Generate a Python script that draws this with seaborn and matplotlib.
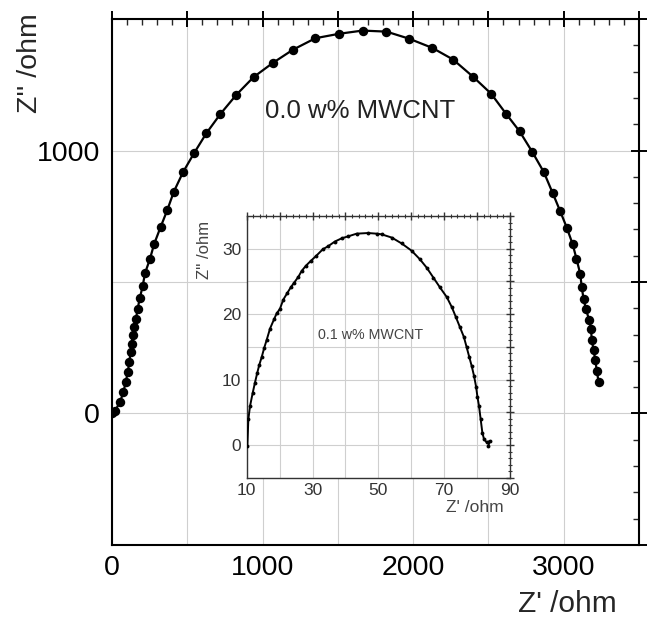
import matplotlib
matplotlib.use("Agg")
import matplotlib.pyplot as plt
import seaborn as sns
import pandas as pd
from matplotlib.ticker import MultipleLocator, FuncFormatter

# ---------------- data ----------------
# main plot: 0.0 w% MWCNT (Nyquist plot)
main_zre = [0, 20, 53, 75, 91, 104, 115, 123, 130, 136, 148, 159, 170, 185, 203,
            219, 252, 280, 322, 366, 411, 472, 545, 627, 720, 826, 940, 1068,
            1201, 1351, 1510, 1664, 1823, 1974, 2128, 2265, 2397, 2518, 2618,
            2707, 2790, 2868, 2927, 2977, 3021, 3060, 3085, 3110, 3120, 3132,
            3147, 3170, 3181, 3187, 3199, 3210, 3220, 3232]
main_zim = [0, 11, 43, 81, 119, 157, 195, 233, 265, 297, 328, 360, 398, 440, 483,
            533, 588, 645, 708, 772, 844, 918, 990, 1066, 1139, 1212, 1279, 1333,
            1383, 1427, 1444, 1456, 1452, 1425, 1390, 1346, 1281, 1216, 1139,
            1073, 996, 918, 838, 769, 706, 643, 588, 531, 480, 436,
            398, 354, 322, 278, 240, 202, 163, 119]

# inset: 0.1 w% MWCNT
ins_zre = [10.2, 10.5, 11.0, 11.8, 12.5, 13.2, 13.8, 14.6, 15.3, 16.1, 17.1, 18.3,
           19.1, 20.1, 21.1, 22.3, 23.4, 24.4, 25.7, 26.7, 28.0, 29.4, 31.1, 33.1,
           34.8, 36.8, 38.9, 40.9, 43.4, 46.9, 49.5, 51.0, 54.1, 57.1, 60.1, 62.6,
           64.7, 66.7, 68.7, 70.8, 72.3, 73.6, 74.8, 76.0, 76.8, 77.6, 78.4, 79.1,
           79.7, 80.1, 80.6, 81.1, 81.6, 82.1, 82.9, 83.9, 83.4]
ins_zim = [-0.15, 3.9, 5.9, 7.9, 9.5, 11.0, 12.2, 13.5, 14.8, 16.1, 17.8, 19.2,
           20.1, 20.8, 22.2, 23.2, 24.1, 24.8, 25.7, 26.6, 27.4, 28.1, 28.9, 29.9,
           30.4, 31.1, 31.6, 31.9, 32.3, 32.4, 32.3, 32.2, 31.7, 30.8, 29.7, 28.4,
           27.1, 25.6, 24.1, 22.6, 21.1, 19.5, 18.0, 16.5, 15.0, 13.5, 12.0, 10.5,
           8.9, 7.4, 5.9, 3.9, 1.9, 0.9, 0.4, 0.6, -0.15]

main_xticklabels = ["0", "1000", "2000", "3000"]
main_yticklabels = ["0", "1000"]
ins_xticklabels = ["10", "30", "50", "70", "90"]
ins_yticklabels = ["0", "10", "20", "30"]

main_label = "0.0 w% MWCNT"
ins_label = "0.1 w% MWCNT"
xlab = "Z' /ohm"
ylab = "Z'' /ohm"

# ---------------- style ----------------
sns.set_style("white")
plt.rcParams['font.family'] = ['Liberation Sans', 'DejaVu Sans']

main_df = pd.DataFrame({"zre": main_zre, "zim": main_zim})
ins_df = pd.DataFrame({"zre": ins_zre, "zim": ins_zim})

fig = plt.figure(figsize=(6.54, 6.17), dpi=100)
ax = fig.add_axes([0.1713, 0.1167, 0.8057, 0.8525])

grid_c = "#cfcfcf"

sns.lineplot(data=main_df, x="zre", y="zim", sort=False, estimator=None,
             marker="o", markersize=6.8, color="black", linewidth=1.6,
             markeredgecolor="black", markeredgewidth=0, ax=ax, zorder=3)
ax.set_xlim(0, 3500)
ax.set_ylim(-500, 1500)
ax.xaxis.set_major_locator(MultipleLocator(500))
ax.yaxis.set_major_locator(MultipleLocator(500))
ax.xaxis.set_minor_locator(MultipleLocator(100))
ax.yaxis.set_minor_locator(MultipleLocator(100))


def fmt_main_x(v, p):
    s = str(int(round(v)))
    return s if s in main_xticklabels else ""


def fmt_main_y(v, p):
    s = str(int(round(v)))
    return s if s in main_yticklabels else ""


ax.xaxis.set_major_formatter(FuncFormatter(fmt_main_x))
ax.yaxis.set_major_formatter(FuncFormatter(fmt_main_y))
ax.grid(True, which="major", color=grid_c, linewidth=0.8)
ax.set_axisbelow(True)
ax.tick_params(which="major", direction="inout", length=11, width=1.4,
               top=True, right=True, labelsize=20.5, colors="black")
ax.tick_params(axis="x", which="major", pad=1.5)
ax.tick_params(axis="y", which="major", pad=3)
ax.tick_params(which="minor", direction="in", length=4, width=1.0,
               top=True, right=True)
for s in ax.spines.values():
    s.set_linewidth(1.5)
    s.set_color("black")
    s.set_visible(True)
ax.set_xlabel("")
ax.set_ylabel("")
ax.text(1650, 1150, main_label, fontsize=18.5, ha="center", va="center",
        color="#222222")
fig.text(0.867, 0.021, xlab, fontsize=21.5, ha="center", va="center")
fig.text(0.046, 0.898, ylab, fontsize=20.5, ha="center", va="center",
         rotation=90)

# ---------------- inset ----------------
axi = fig.add_axes([0.3772, 0.2258, 0.4026, 0.4241])
axi.set_facecolor("white")
sns.lineplot(data=ins_df, x="zre", y="zim", sort=False, estimator=None,
             marker="o", markersize=2.8, color="black", linewidth=1.4,
             markeredgecolor="black", markeredgewidth=0, ax=axi, zorder=3)
axi.set_xlim(10, 90)
axi.set_ylim(-5, 35)
axi.xaxis.set_major_locator(MultipleLocator(10))
axi.yaxis.set_major_locator(MultipleLocator(5))
axi.xaxis.set_minor_locator(MultipleLocator(2))
axi.yaxis.set_minor_locator(MultipleLocator(1))


def fmt_ins_x(v, p):
    s = str(int(round(v)))
    return s if s in ins_xticklabels else ""


def fmt_ins_y(v, p):
    s = str(int(round(v)))
    return s if (s in ins_yticklabels and abs(v - round(v)) < 1e-6) else ""


axi.xaxis.set_major_formatter(FuncFormatter(fmt_ins_x))
axi.yaxis.set_major_formatter(FuncFormatter(fmt_ins_y))
axi.grid(True, which="major", color=grid_c, linewidth=0.8)
axi.set_axisbelow(True)
axi.tick_params(which="major", direction="inout", length=6, width=1.0,
                top=True, right=True, labelsize=12.5, pad=1.0,
                labelcolor="#333333", color="#333333")
axi.tick_params(which="minor", direction="inout", length=2.5, width=0.8,
                top=True, right=True, color="#333333")
for s in axi.spines.values():
    s.set_linewidth(1.0)
    s.set_color("#333333")
    s.set_visible(True)
axi.set_xlabel("")
axi.set_ylabel("")
axi.text(47.5, 16.8, ins_label, fontsize=10.3, ha="center", va="center",
         color="#444444")
fig.text(0.726, 0.177, xlab, fontsize=12.5, ha="center", va="center",
         color="#444444")
fig.text(0.312, 0.595, ylab, fontsize=12, ha="center", va="center",
         rotation=90, color="#444444")

fig.savefig("out.png", dpi=100)
